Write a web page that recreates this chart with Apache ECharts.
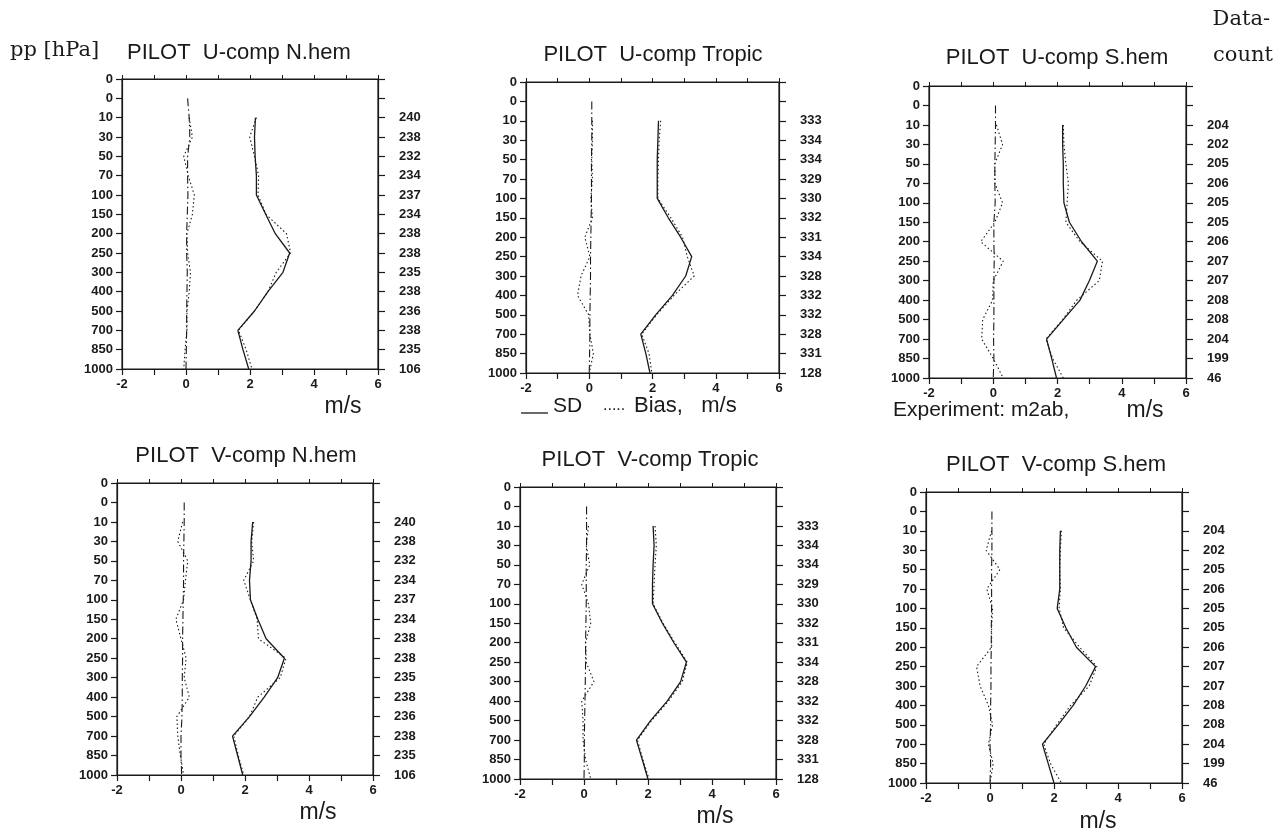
<!DOCTYPE html>
<html>
<head>
<meta charset="utf-8">
<script src="https://cdn.jsdelivr.net/npm/echarts@6/dist/echarts.min.js"></script>
<style>
html,body{margin:0;padding:0;background:#fff;}
#c{width:1282px;height:832px;}
</style>
</head>
<body>
<div id="c"></div>
<script>
// ---- tick labels ----
const levels = ['0','0','10','30','50','70','100','150','200','250','300','400','500','700','850','1000'];
const xTicks = [-2, 0, 2, 4, 6];

// ---- data counts (levels 10..1000) ----
const countsNH = [240,238,232,234,237,234,238,238,235,238,236,238,235,106];
const countsTR = [333,334,334,329,330,332,331,334,328,332,332,328,331,128];
const countsSH = [204,202,205,206,205,205,206,207,207,208,208,204,199,46];

// ---- U-comp N.hem ----
const uNhSdExp   = [2.17,2.14,2.16,2.20,2.20,2.49,2.79,3.24,3.03,2.56,2.14,1.62,1.78,1.96];
const uNhSdRef   = [2.20,1.99,2.14,2.27,2.25,2.50,3.14,3.27,2.82,2.56,2.14,1.64,1.88,2.06];
const uNhBiasExp = [0.05,0.10,0.12,0.05,0.05,0.06,0.04,0.02,0.02,0.04,0.03,0.02,0.02,0.01,0.00];
const uNhBiasRef = [0.10,0.20,-0.07,0.07,0.26,0.20,0.03,0.05,0.14,0.10,0.03,0.03,-0.03,-0.07];

// ---- U-comp Tropic ----
const uTrSdExp   = [2.19,2.17,2.15,2.15,2.15,2.50,2.89,3.24,3.05,2.63,2.10,1.63,1.79,1.92];
const uTrSdRef   = [2.26,2.21,2.19,2.17,2.17,2.58,2.95,3.10,3.32,2.68,2.13,1.66,1.89,1.98];
const uTrBiasExp = [0.08,0.08,0.08,0.07,0.07,0.07,0.06,0.05,0.04,0.04,0.03,0.02,0.02,0.01,0.00];
const uTrBiasRef = [0.10,0.10,0.08,0.10,0.05,0.10,-0.14,0.02,-0.26,-0.37,-0.02,0.02,0.13,0.00];

// ---- U-comp S.hem ----
const uShSdExp   = [2.16,2.16,2.18,2.18,2.20,2.37,2.75,3.24,2.99,2.70,2.18,1.66,1.82,1.97];
const uShSdRef   = [2.18,2.20,2.26,2.34,2.30,2.26,2.70,3.40,3.30,2.60,2.16,1.64,1.85,2.18];
const uShBiasExp = [0.07,0.07,0.06,0.05,0.05,0.06,0.02,0.02,0.03,0.02,0.02,0.02,0.01,0.02,0.00];
const uShBiasRef = [0.10,0.29,0.05,0.05,0.29,0.05,-0.39,0.31,0.00,-0.02,-0.33,-0.36,0.00,0.31];

// ---- V-comp N.hem ----
const vNhSdExp   = [2.24,2.19,2.19,2.14,2.17,2.40,2.66,3.23,3.02,2.60,2.14,1.61,1.77,1.93];
const vNhSdRef   = [2.27,2.21,2.27,1.96,2.17,2.38,2.42,3.28,3.10,2.40,2.14,1.65,1.79,1.96];
const vNhBiasExp = [0.10,0.10,0.09,0.08,0.08,0.07,0.06,0.05,0.05,0.04,0.04,0.03,0.00,0.00,0.02];
const vNhBiasRef = [0.05,-0.10,0.21,0.14,0.08,-0.16,0.00,0.16,0.10,0.26,-0.13,-0.10,-0.02,0.08];

// ---- V-comp Tropic ----
const vTrSdExp   = [2.16,2.19,2.16,2.14,2.14,2.45,2.81,3.20,3.02,2.60,2.08,1.64,1.82,2.00];
const vTrSdRef   = [2.22,2.26,2.22,2.19,2.16,2.47,2.84,3.23,3.07,2.64,2.11,1.67,1.84,2.03];
const vTrBiasExp = [0.08,0.08,0.08,0.07,0.07,0.07,0.06,0.05,0.05,0.04,0.03,0.02,0.01,0.01,0.00];
const vTrBiasRef = [0.14,0.07,0.18,-0.07,0.14,0.21,0.05,0.07,0.31,-0.07,-0.03,-0.03,0.05,0.21];

// ---- V-comp S.hem ----
const vShSdExp   = [2.20,2.18,2.18,2.18,2.10,2.37,2.70,3.30,2.99,2.60,2.13,1.64,1.82,2.00];
const vShSdRef   = [2.23,2.20,2.18,2.20,2.16,2.30,2.80,3.34,3.10,2.52,2.08,1.68,1.89,2.23];
const vShBiasExp = [0.06,0.06,0.06,0.05,0.05,0.05,0.04,0.04,0.03,0.03,0.02,0.02,0.00,0.02,0.00];
const vShBiasRef = [0.05,-0.12,0.31,-0.10,0.08,0.05,0.05,-0.42,-0.31,-0.05,0.08,-0.05,0.10,0.00];

// ---- titles ----
const titles = ['PILOT  U-comp N.hem','PILOT  U-comp Tropic','PILOT  U-comp S.hem',
                'PILOT  V-comp N.hem','PILOT  V-comp Tropic','PILOT  V-comp S.hem'];

const panels = [
  {g:{left:122,top:79,width:256,height:290}, counts:countsNH, d:[uNhSdExp,uNhSdRef,uNhBiasExp,uNhBiasRef], t:[127,53,'left']},
  {g:{left:526,top:82,width:253,height:291}, counts:countsTR, d:[uTrSdExp,uTrSdRef,uTrBiasExp,uTrBiasRef], t:[653,55,'center']},
  {g:{left:929,top:86,width:257,height:292}, counts:countsSH, d:[uShSdExp,uShSdRef,uShBiasExp,uShBiasRef], t:[1057,58,'center']},
  {g:{left:117,top:483,width:256,height:292}, counts:countsNH, d:[vNhSdExp,vNhSdRef,vNhBiasExp,vNhBiasRef], t:[246,456,'center']},
  {g:{left:520,top:487,width:256,height:292}, counts:countsTR, d:[vTrSdExp,vTrSdRef,vTrBiasExp,vTrBiasRef], t:[650,460,'center']},
  {g:{left:926,top:492,width:256,height:291}, counts:countsSH, d:[vShSdExp,vShSdRef,vShBiasExp,vShBiasRef], t:[1056,465,'center']}
];

const ink = '#1a1a1a';
const sans = 'Liberation Sans, Arial, sans-serif';
const serif = 'DejaVu Serif, Liberation Serif, serif';
const lblFont = {color:ink, fontFamily:sans, fontSize:13, fontWeight:'bold'};

const grid = [], xAxis = [], yAxis = [], series = [];
panels.forEach((p, k) => {
  grid.push(Object.assign({show:true, borderColor:ink, borderWidth:1.2, backgroundColor:'transparent'}, p.g));
  // bottom x axis
  xAxis.push({
    type:'value', gridIndex:k, min:-2, max:6, interval:1, position:'bottom',
    axisLine:{show:true, onZero:false, lineStyle:{color:ink, width:1.2}},
    axisTick:{show:true, inside:false, length:6, lineStyle:{color:ink, width:1.2}},
    splitLine:{show:false},
    axisLabel:Object.assign({show:true, margin:9,
      formatter: v => xTicks.indexOf(v) >= 0 ? String(v) : ''}, lblFont)
  });
  // top x axis (ticks only)
  xAxis.push({
    type:'value', gridIndex:k, min:-2, max:6, interval:1, position:'top',
    axisLine:{show:true, onZero:false, lineStyle:{color:ink, width:1.2}},
    axisTick:{show:true, inside:false, length:4, lineStyle:{color:ink, width:1}},
    splitLine:{show:false}, axisLabel:{show:false}
  });
  // left y axis: pressure levels
  yAxis.push({
    type:'value', gridIndex:k, min:0, max:15, interval:1, inverse:true, position:'left',
    axisLine:{show:true, onZero:false, lineStyle:{color:ink, width:1.2}},
    axisTick:{show:true, inside:false, length:6, lineStyle:{color:ink, width:1.2}},
    splitLine:{show:false},
    axisLabel:Object.assign({show:true, margin:9,
      formatter: v => levels[v] !== undefined ? levels[v] : ''}, lblFont)
  });
  // right y axis: data counts
  const counts = p.counts;
  yAxis.push({
    type:'value', gridIndex:k, min:0, max:15, interval:1, inverse:true, position:'right',
    axisLine:{show:true, onZero:false, lineStyle:{color:ink, width:1.2}},
    axisTick:{show:true, inside:false, length:7, lineStyle:{color:ink, width:1.2}},
    splitLine:{show:false},
    axisLabel:Object.assign({show:true, margin:21,
      formatter: v => (v >= 2 && counts[v-2] !== undefined) ? String(counts[v-2]) : ''}, lblFont)
  });
  const xi = 2*k, yi = 2*k;
  const [sdExp, sdRef, biasExp, biasRef] = p.d;
  const base = {type:'line', xAxisIndex:xi, yAxisIndex:yi, symbol:'none', silent:true, animation:false, z:3};
  series.push(Object.assign({}, base, {name:'SD exp', data: sdExp.map((v,i)=>[v,i+2]),
    lineStyle:{color:ink, width:1.3, type:'solid'}}));
  series.push(Object.assign({}, base, {name:'SD ref', data: sdRef.map((v,i)=>[v,i+2]),
    lineStyle:{color:ink, width:1.1, type:[1.5,2.5]}}));
  series.push(Object.assign({}, base, {name:'Bias exp', data: biasExp.map((v,i)=>[v,i+1]),
    lineStyle:{color:ink, width:1.1, type:[8,3,1.5,3]}}));
  series.push(Object.assign({}, base, {name:'Bias ref', data: biasRef.map((v,i)=>[v,i+2]),
    lineStyle:{color:ink, width:1.1, type:[1.5,2.5]}}));
});

const txt = (x, y, text, size, family, align, weight) => ({
  type:'text', x:x, y:y, silent:true,
  style:{text:text, fill:ink, font:(weight||'normal') + ' ' + size + 'px ' + family,
    textAlign:align||'center', textVerticalAlign:'middle'}
});

const graphic = [
  txt(10, 51, 'pp [hPa]', 21, serif, 'left'),
  txt(1270, 20, 'Data-', 21, serif, 'right'),
  txt(1273, 56, 'count', 21, serif, 'right'),
  txt(343, 407, 'm/s', 23, sans, 'center'),
  txt(553, 406, 'SD', 21, sans, 'left'),
  txt(603, 406, '.....', 16, sans, 'left'),
  txt(634, 406, 'Bias,   m/s', 22, sans, 'left'),
  {type:'line', silent:true, shape:{x1:521, y1:413, x2:548, y2:413}, style:{stroke:ink, lineWidth:1.3}},
  txt(893, 410, 'Experiment: m2ab,', 21, sans, 'left'),
  txt(1145, 411, 'm/s', 23, sans, 'center'),
  txt(318, 813, 'm/s', 23, sans, 'center'),
  txt(715, 817, 'm/s', 23, sans, 'center'),
  txt(1098, 822, 'm/s', 23, sans, 'center')
];
panels.forEach((p, k) => {
  graphic.push(txt(p.t[0], p.t[1], titles[k], 22, sans, p.t[2]));
});

const chart = echarts.init(document.getElementById('c'), null, {renderer:'canvas'});
chart.setOption({
  backgroundColor:'#ffffff',
  animation:false,
  grid:grid, xAxis:xAxis, yAxis:yAxis, series:series, graphic:graphic
});
</script>
</body>
</html>
